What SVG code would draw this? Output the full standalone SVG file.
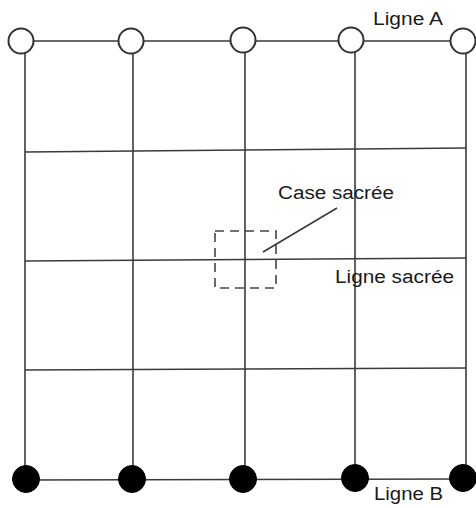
<svg xmlns="http://www.w3.org/2000/svg" width="476" height="508" viewBox="0 0 476 508">
<style>
.ln{stroke:#3a3a3a;stroke-width:1.6;fill:none}
.open{fill:#fff;stroke:#333;stroke-width:2}
.full{fill:#000;stroke:#000;stroke-width:1}
.lbl{font-family:"Liberation Sans",Arial,sans-serif;font-size:18px;fill:#1a1a1a}
.dash{stroke:#444;stroke-width:1.6;fill:none;stroke-dasharray:9,6}
</style>
<rect width="476" height="508" fill="#fff"/>
<g id="connectors">
<line class="ln" x1="21" y1="41" x2="463" y2="41"/>
<line class="ln" x1="26" y1="480" x2="463" y2="479"/>
<line class="ln" x1="25" y1="41" x2="25" y2="480"/>
<line class="ln" x1="133" y1="41" x2="133" y2="480"/>
<line class="ln" x1="245" y1="41" x2="245" y2="480"/>
<line class="ln" x1="355" y1="41" x2="355" y2="480"/>
<line class="ln" x1="466" y1="41" x2="466" y2="480"/>
<line class="ln" x1="25" y1="152" x2="466" y2="148"/>
<line class="ln" x1="25" y1="261" x2="466" y2="258"/>
<line class="ln" x1="25" y1="370" x2="466" y2="368"/>
<line class="ln" x1="337" y1="208" x2="263" y2="252"/>
</g>
<g id="sacred-cell">
<rect class="dash" x="215" y="231" width="61" height="57"/>
</g>
<g id="lineA">
<circle class="open" cx="21" cy="41" r="12.5"/>
<circle class="open" cx="131" cy="41" r="12.5"/>
<circle class="open" cx="243" cy="40" r="12.5"/>
<circle class="open" cx="351" cy="40" r="12.5"/>
<circle class="open" cx="463" cy="41" r="12.5"/>
<text class="lbl" x="373" y="25" textLength="70" lengthAdjust="spacingAndGlyphs">Ligne A</text>
</g>
<g id="lineB">
<circle class="full" cx="26" cy="479" r="13.5"/>
<circle class="full" cx="132" cy="479" r="13.5"/>
<circle class="full" cx="243" cy="479" r="13.5"/>
<circle class="full" cx="355" cy="478" r="13.5"/>
<circle class="full" cx="463" cy="478" r="13.5"/>
<text class="lbl" x="374" y="500" textLength="69" lengthAdjust="spacingAndGlyphs">Ligne B</text>
</g>
<g id="labels">
<text class="lbl" x="278" y="199" textLength="116" lengthAdjust="spacingAndGlyphs">Case sacrée</text>
<text class="lbl" x="335" y="283" textLength="119" lengthAdjust="spacingAndGlyphs">Ligne sacrée</text>
</g>
</svg>
